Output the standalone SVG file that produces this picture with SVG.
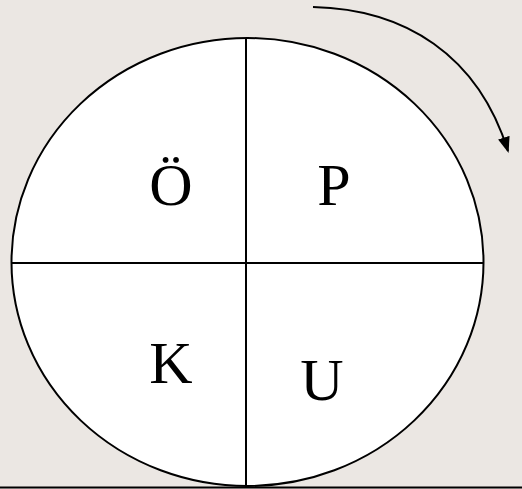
<svg xmlns="http://www.w3.org/2000/svg" width="522" height="489" viewBox="0 0 522 489">
<style>
.ln{stroke:#000;stroke-width:2;fill:none}
.lbl{font-family:"Liberation Serif","Times New Roman",serif;font-size:60px;fill:#000;text-anchor:middle}
</style>
<defs>
<marker id="ah" markerWidth="16" markerHeight="12" refX="14" refY="6" orient="auto" markerUnits="userSpaceOnUse">
<path d="M0,0 L16,6 L0,12 Z" fill="#000"/>
</marker>
</defs>
<rect x="0" y="0" width="522" height="489" fill="#ebe7e3"/>
<g id="circle">
<ellipse cx="247.5" cy="262" rx="236" ry="224" style="fill:#fff;stroke:#000;stroke-width:2"/>
</g>
<g id="connectors">
<line x1="246" y1="38" x2="246" y2="487" class="ln"/>
<line x1="11" y1="263" x2="484" y2="263" class="ln"/>
<line x1="0" y1="487.5" x2="522" y2="487.5" class="ln"/>
<path d="M313,7 C405,9 478,55 508,151" class="ln" marker-end="url(#ah)"/>
</g>
<g id="q-oe"><text x="171" y="205" class="lbl">Ö</text></g>
<g id="q-p"><text x="334" y="205" class="lbl">P</text></g>
<g id="q-k"><text x="171" y="383" class="lbl">K</text></g>
<g id="q-u"><text x="322" y="400" class="lbl">U</text></g>
</svg>
